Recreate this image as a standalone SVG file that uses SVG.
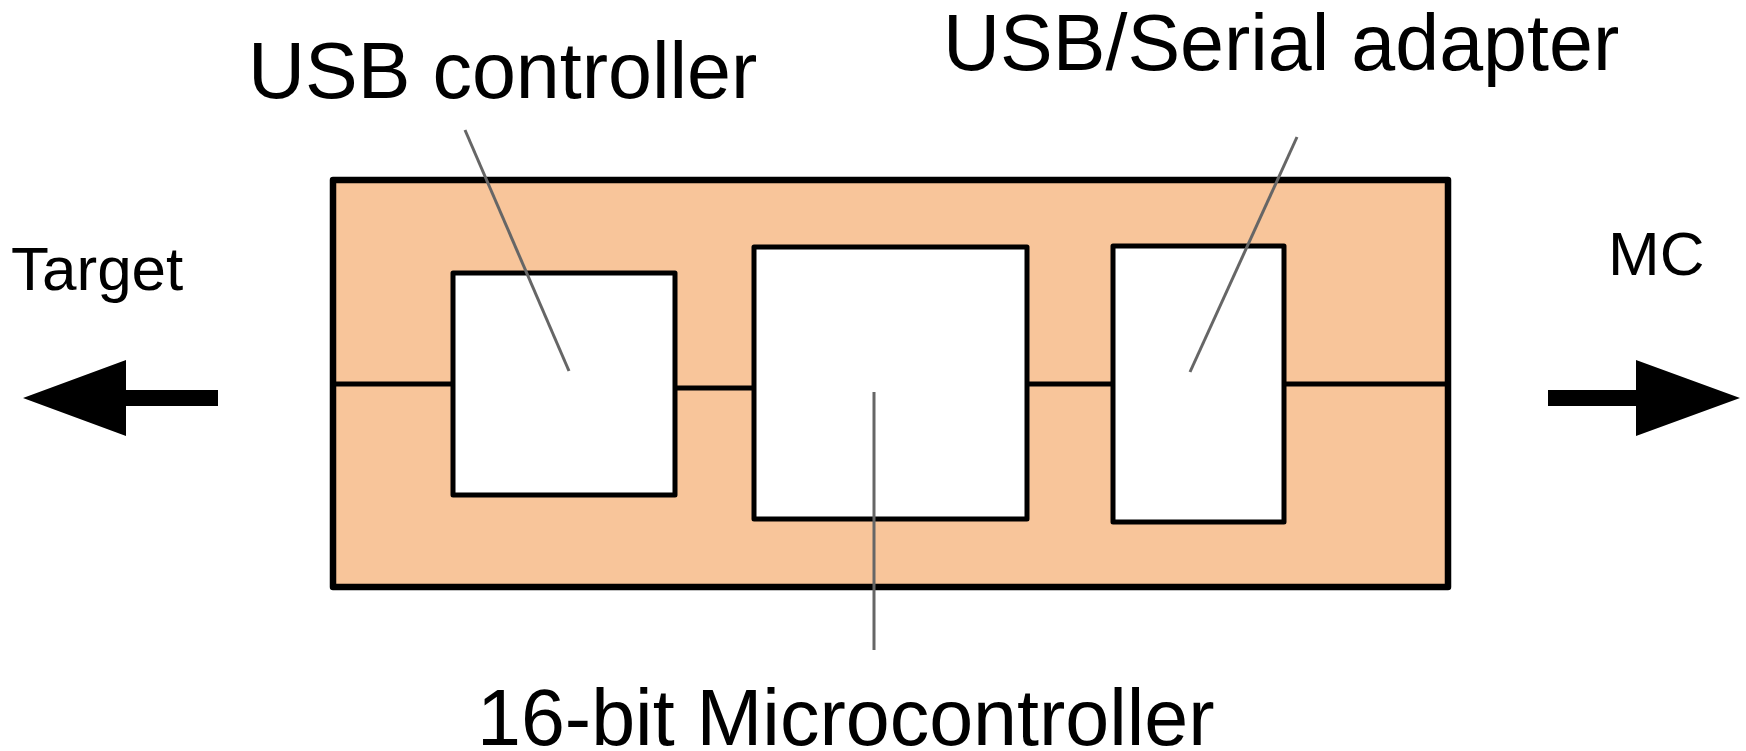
<svg xmlns="http://www.w3.org/2000/svg" width="1746" height="751" viewBox="0 0 1746 751">
<style>
.lbl{font-family:"Liberation Sans",Arial,sans-serif;fill:#000}
.blk{fill:#fff;stroke:#000;stroke-width:5;stroke-linejoin:round}
.wire{stroke:#000;stroke-width:5;fill:none}
.lead{stroke:#666;stroke-width:3;fill:none}
</style>
<rect width="1746" height="751" fill="#fff"/>
<g id="board">
<rect x="333" y="180" width="1115" height="407" fill="#f8c59a" stroke="#000" stroke-width="6.5" stroke-linejoin="round"/>
</g>
<g id="connectors">
<line class="wire" x1="335" y1="384" x2="453" y2="384"/>
<line class="wire" x1="675" y1="388" x2="754" y2="388"/>
<line class="wire" x1="1027" y1="384" x2="1113" y2="384"/>
<line class="wire" x1="1284" y1="384" x2="1445" y2="384"/>
<path d="M218 390 H126 V360 L23 398 L126 436 V406 H218 Z" fill="#000"/>
<path d="M1548 390 H1636 V360 L1740 398 L1636 436 V406 H1548 Z" fill="#000"/>
</g>
<g id="usb-controller">
<rect class="blk" x="453" y="273" width="222" height="222"/>
</g>
<g id="microcontroller">
<rect class="blk" x="754" y="247" width="273" height="272"/>
</g>
<g id="usb-serial">
<rect class="blk" x="1113" y="246" width="171" height="276"/>
</g>
<g id="leaders">
<line class="lead" x1="465" y1="130" x2="569" y2="371"/>
<line class="lead" x1="874" y1="392" x2="874" y2="650"/>
<line class="lead" x1="1297" y1="137" x2="1190" y2="372"/>
</g>
<g id="labels">
<text class="lbl" x="248" y="98" font-size="79">USB controller</text>
<text class="lbl" x="943" y="70" font-size="79">USB/Serial adapter</text>
<text class="lbl" x="477" y="745" font-size="79">16-bit Microcontroller</text>
<text class="lbl" x="11" y="290" font-size="62">Target</text>
<text class="lbl" x="1608" y="275" font-size="62">MC</text>
</g>
</svg>
